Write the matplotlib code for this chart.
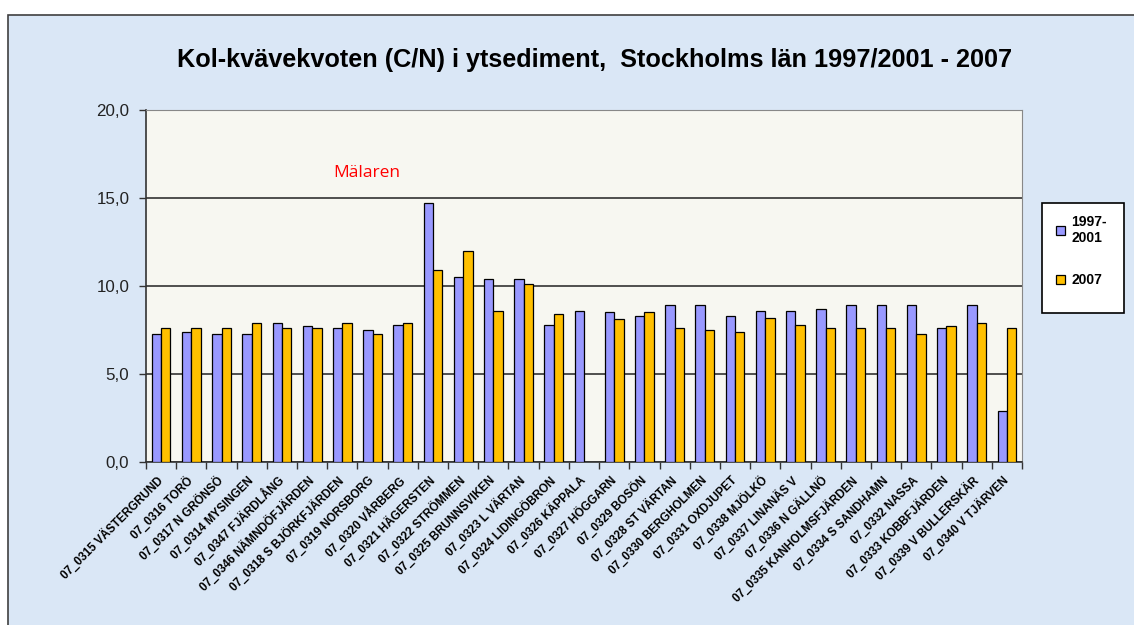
import matplotlib
matplotlib.use('Agg')
import matplotlib.pyplot as plt
from matplotlib.patches import Rectangle
from matplotlib.ticker import FuncFormatter
import numpy as np

plt.rcParams['font.family'] = ['Liberation Sans', 'DejaVu Sans']

stations = [
    '07_0315 VÄSTERGRUND', '07_0316 TORÖ', '07_0317 N GRÖNSÖ', '07_0314 MYSINGEN',
    '07_0347 FJÄRDLÅNG', '07_0346 NÄMNDÖFJÄRDEN', '07_0318 S BJÖRKFJÄRDEN',
    '07_0319 NORSBORG', '07_0320 VÅRBERG', '07_0321 HÄGERSTEN', '07_0322 STRÖMMEN',
    '07_0325 BRUNNSVIKEN', '07_0323 L VÄRTAN', '07_0324 LIDINGÖBRON', '07_0326 KÄPPALA',
    '07_0327 HÖGGARN', '07_0329 BOSÖN', '07_0328 ST VÄRTAN', '07_0330 BERGHOLMEN',
    '07_0331 OXDJUPET', '07_0338 MJÖLKÖ', '07_0337 LINANÄS V', '07_0336 N GÄLLNÖ',
    '07_0335 KANHOLMSFJÄRDEN', '07_0334 S SANDHAMN', '07_0332 NASSA',
    '07_0333 KOBBFJÄRDEN', '07_0339 V BULLERSKÄR', '07_0340 V TJÄRVEN',
]
cn_1997_2001 = [7.3, 7.4, 7.3, 7.3, 7.9, 7.7, 7.6, 7.5, 7.8, 14.7, 10.5, 10.4, 10.4,
                7.8, 8.6, 8.5, 8.3, 8.9, 8.9, 8.3, 8.6, 8.6, 8.7, 8.9, 8.9, 8.9,
                7.6, 8.9, 2.9]
cn_2007 = [7.6, 7.6, 7.6, 7.9, 7.6, 7.6, 7.9, 7.3, 7.9, 10.9, 12.0, 8.6, 10.1,
           8.4, np.nan, 8.1, 8.5, 7.6, 7.5, 7.4, 8.2, 7.8, 7.6, 7.6, 7.6, 7.3,
           7.7, 7.9, 7.6]
series_labels = ['1997-\n2001', '2007']

W, H = 1134, 625
fig = plt.figure(figsize=(W / 100, H / 100), dpi=100)
fig.patch.set_facecolor('white')

# chart area (light blue panel, cut off at right/bottom)
fig.add_artist(Rectangle((8 / W, -0.01), 1.02, 1 - 15 / H + 0.01, transform=fig.transFigure,
                         facecolor='#DAE7F6', edgecolor='#404040', linewidth=1.2, zorder=0))

ax = fig.add_axes([146 / W, 1 - 462 / H, (1022 - 146) / W, (462 - 110) / H])
ax.set_facecolor('#F7F7F1')

x = np.arange(len(stations))
bw = 0.31
ax.bar(x - bw / 2, cn_1997_2001, bw, color='#9999FF', edgecolor='black', linewidth=0.9,
       label=series_labels[0], zorder=3)
ax.bar(x + bw / 2, cn_2007, bw, color='#FFC000', edgecolor='black', linewidth=0.9,
       label=series_labels[1], zorder=3)

ax.set_xlim(-0.5, len(stations) - 0.5)
ax.set_ylim(0, 20)
ax.set_yticks([0, 5, 10, 15, 20])
ax.yaxis.set_major_formatter(FuncFormatter(lambda v, p: f'{v:.1f}'.replace('.', ',')))
ax.tick_params(axis='y', labelsize=12.2, length=5, width=1, color='#333333', pad=7,
               labelcolor='#222222')
ax.grid(axis='y', color='#222222', linewidth=1.1, zorder=1)

ax.set_xticks(np.arange(len(stations) + 1) - 0.5)
ax.set_xticklabels([])
ax.tick_params(axis='x', which='major', length=5, width=1, color='#333333')
ax.set_xticks(x, stations, minor=True)
ax.tick_params(axis='x', which='minor', length=0, pad=12)
for lbl in ax.get_xticklabels(minor=True):
    lbl.set_rotation(45)
    lbl.set_ha('right')
    lbl.set_va('center')
    lbl.set_rotation_mode('anchor')
    lbl.set_fontsize(8.4)
    lbl.set_fontweight('bold')

for side in ['top', 'right']:
    ax.spines[side].set_color('#888888')
for side in ['left', 'bottom']:
    ax.spines[side].set_color('#333333')
    ax.spines[side].set_linewidth(1.2)

ax.text(0.252, 0.82, 'Mälaren', transform=ax.transAxes, color='red', fontsize=12.5,
        ha='center', va='center', family=['Open Sans', 'DejaVu Sans'])

fig.text(595 / W, 1 - 60 / H, 'Kol-kvävekvoten (C/N) i ytsediment,  Stockholms län 1997/2001 - 2007',
         ha='center', va='center', fontsize=18.2, fontweight='bold')

# legend box drawn separately (more room below the entries than above)
fig.add_artist(Rectangle((1042 / W, 1 - 313 / H), 82 / W, 110 / H, transform=fig.transFigure,
                         facecolor='white', edgecolor='black', linewidth=1.2, zorder=4))
leg = fig.legend(loc='upper left', bbox_to_anchor=(1052 / W, 1 - 211 / H), frameon=False,
                 prop={'weight': 'bold', 'size': 10},
                 handlelength=0.6, handleheight=0.6, handletextpad=0.5,
                 labelspacing=2.0, borderpad=0.3, borderaxespad=0)
leg.set_zorder(5)

fig.savefig('out.png', dpi=100)
